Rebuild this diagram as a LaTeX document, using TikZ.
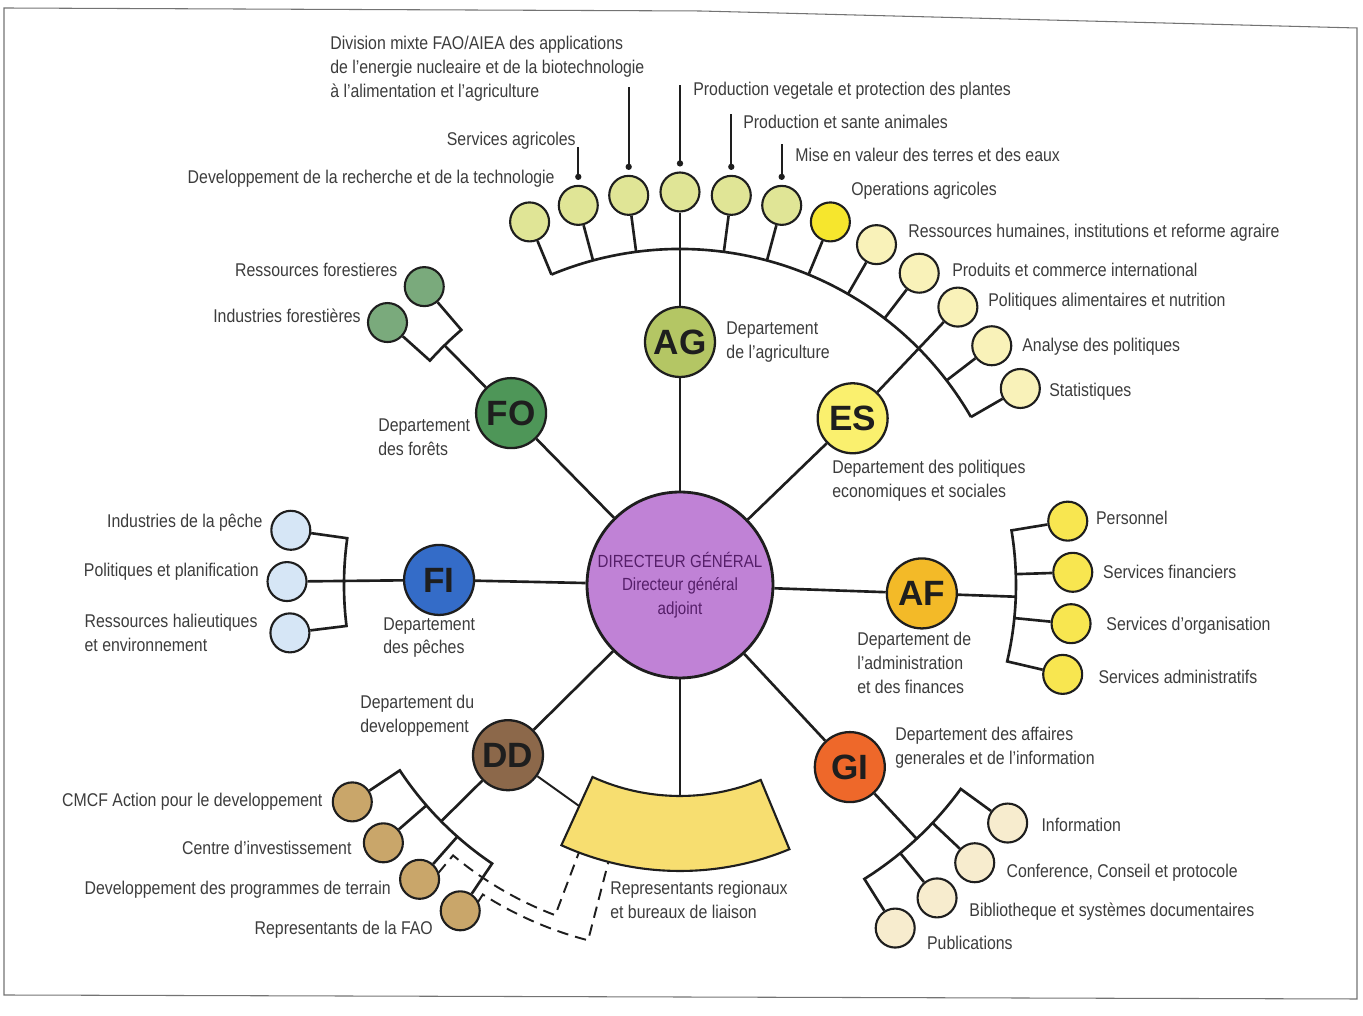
\documentclass[tikz,border=0pt]{standalone}
\usepackage{fontspec}
\setmainfont{Liberation Sans}[FakeStretch=0.86]
\newfontfamily\deptfont{Liberation Sans}
\usetikzlibrary{calc}
\usetikzlibrary{positioning}

\definecolor{ink}{RGB}{30,30,30}
\definecolor{txt}{RGB}{60,60,60}
\definecolor{dgfill}{RGB}{192,130,214}
\definecolor{dgtext}{RGB}{85,30,105}
\definecolor{agfill}{RGB}{180,198,100}
\definecolor{agunit}{RGB}{224,229,150}
\definecolor{opunit}{RGB}{246,230,45}
\definecolor{esfill}{RGB}{250,240,110}
\definecolor{esunit}{RGB}{249,242,185}
\definecolor{fofill}{RGB}{78,150,88}
\definecolor{founit}{RGB}{122,170,124}
\definecolor{fifill}{RGB}{52,108,200}
\definecolor{fiunit}{RGB}{214,230,246}
\definecolor{affill}{RGB}{243,186,40}
\definecolor{afunit}{RGB}{248,230,80}
\definecolor{ddfill}{RGB}{140,104,74}
\definecolor{ddunit}{RGB}{201,166,106}
\definecolor{gifill}{RGB}{238,104,42}
\definecolor{giunit}{RGB}{247,236,206}
\definecolor{repfill}{RGB}{247,222,112}

\tikzset{
  dept/.style={circle, draw=ink, line width=1.3pt, minimum size=1.4cm, inner sep=0pt,
    text=ink, font=\deptfont\bfseries\fontsize{20}{20}\selectfont},
  unit/.style={circle, draw=ink, line width=1.2pt, minimum size=0.78cm, inner sep=0pt},
  lbl/.style={inner sep=0pt, text=txt, align=left},
  link/.style={draw=ink, line width=1.5pt},
  pin/.style={draw=ink, line width=1.1pt},
  dashline/.style={draw=ink, line width=1.1pt, dash pattern=on 6.5pt off 4pt},
}

\begin{document}
\begin{tikzpicture}[x=0.02cm, y=0.02cm, font=\fontsize{10.5}{13.6}\selectfont]
  \useasboundingbox (-680,-431) rectangle (683,585);
  % page edge
  \draw[black!55, line width=0.6pt] (-676,577) -- (20,574) -- (677,557) -- (677,-414) -- (-676,-410) -- cycle;

  % director general in the middle
  \node[circle, draw=ink, line width=1.6pt, fill=dgfill, minimum size=3.72cm, inner sep=0pt,
    align=center, text=dgtext, font=\fontsize{10}{13.4}\selectfont] (dg) at (0,0)
    {DIRECTEUR GÉNÉRAL\\Directeur général\\adjoint};

  % departments
  \node[dept, fill=agfill] (ag) at (90:243) {AG};
  \node[dept, fill=fofill] (fo) at (134.5:241) {FO};
  \node[dept, fill=esfill] (es) at (44:240) {ES};
  \node[dept, fill=fifill] (fi) at (178.8:241) {FI};
  \node[dept, fill=affill] (af) at (-2:242) {AF};
  \node[dept, fill=ddfill] (dd) at (224.7:242) {DD};
  \node[dept, fill=gifill] (gi) at (-47:249) {GI};

  \foreach \d in {ag,fo,es,fi,af,dd,gi}
    \draw[link] (dg) -- (\d);

  \node[lbl, right=0.2cm of ag] (ag-l) {Departement\\de l'agriculture};
  \node[lbl, anchor=west] (fo-l) at (-302,148) {Departement\\des forêts};
  \node[lbl, anchor=north west] (es-l) at (152,125) {Departement des politiques\\economiques et sociales};
  \node[lbl, anchor=north west] (fi-l) at (-297,-32) {Departement\\des pêches};
  \node[lbl, anchor=north west] (af-l) at (177,-47) {Departement de\\l'administration\\et des finances};
  \node[lbl, anchor=north west] (dd-l) at (-320,-110) {Departement du\\developpement};
  \node[lbl, anchor=north west] (gi-l) at (215,-142) {Departement des affaires\\generales et de l'information};

  % units on the big arc (agriculture, then economic and social)
  \foreach \i/\c in {1/agunit,2/agunit,3/agunit,4/agunit,5/agunit,6/agunit,
                     7/opunit,8/esunit,9/esunit,10/esunit,11/esunit,12/esunit} {
    \node[unit, fill=\c] (u\i) at ({112.5-7.5*(\i-1)}:393) {};
    \coordinate (s\i) at ({112.5-7.5*(\i-1)}:336);
  }
  \draw[link] (s1) arc[start angle=112.5, end angle=30, radius=336];
  \foreach \i in {1,2,3,5,6,7,8,9,11,12}
    \draw[link] (u\i) -- (s\i);
  \draw[link] (ag) -- (u4);
  \draw[link] (es) -- (u10);

  % pins above the first units
  \foreach \i/\len in {2/30,3/80,4/78,5/53,6/33} {
    \coordinate (d\i) at ($(u\i.north)+(0,8)$);
    \fill[ink] (d\i) circle[radius=1.8pt];
    \draw[pin] (d\i) -- ++(0,\len) coordinate (t\i);
  }

  \node[lbl, anchor=east] (u1-l) at (-125,406) {Developpement de la recherche et de la technologie};
  \node[lbl, anchor=east] (u2-l) at (-104,444) {Services agricoles};
  \node[lbl, anchor=north west] (u3-l) at (-350,549) {Division mixte FAO/AIEA des applications\\de l'energie nucleaire et de la biotechnologie\\à l'alimentation et l'agriculture};
  \node[lbl, anchor=west] (u4-l) at (13,494) {Production vegetale et protection des plantes};
  \node[lbl, anchor=west] (u5-l) at (63,463) {Production et sante animales};
  \node[lbl, anchor=west] (u6-l) at (115,430) {Mise en valeur des terres et des eaux};
  \node[lbl, anchor=west] (u7-l) at (171,394) {Operations agricoles};
  \node[lbl, anchor=west] (u8-l) at (228,352) {Ressources humaines, institutions et reforme agraire};
  \node[lbl, anchor=west] (u9-l) at (272,315) {Produits et commerce international};
  \node[lbl, anchor=west] (u10-l) at (308,283) {Politiques alimentaires et nutrition};
  \node[lbl, anchor=west] (u11-l) at (342,238) {Analyse des politiques};
  \node[lbl, anchor=west] (u12-l) at (369,193) {Statistiques};

  % forests
  \node[unit, fill=founit] (fo1) at (130.6:393) {};
  \node[unit, fill=founit] (fo2) at (138.1:393) {};
  \coordinate (fo-a) at (130.6:336);
  \coordinate (fo-j) at (134.5:336);
  \draw[link] (fo) -- (fo-j);
  \draw[link] (fo1) -- (fo-a) arc[start angle=130.6, end angle=138.1, radius=336] -- (fo2);
  \node[lbl, left=0.12cm of fo1, yshift=0.33cm] (fo1-l) {Ressources forestieres};
  \node[lbl, left=0.12cm of fo2, yshift=0.13cm] (fo2-l) {Industries forestières};

  % fisheries
  \foreach \i/\a in {1/172,2/179.5,3/187}
    \node[unit, fill=fiunit] (fi\i) at (\a:393) {};
  \coordinate (fi-a) at (172:336);
  \draw[link] (fi1) -- (fi-a) arc[start angle=172, end angle=187, radius=336] -- (fi3);
  \draw[link] (fi) -- (fi2);
  \node[lbl, left=0.15cm of fi1, yshift=0.15cm] (fi1-l) {Industries de la pêche};
  \node[lbl, left=0.15cm of fi2, yshift=0.19cm] (fi2-l) {Politiques et planification};
  \node[lbl, left=0.23cm of fi3] (fi3-l) {Ressources halieutiques\\et environnement};

  % administration and finance
  \foreach \i/\a in {1/9.35,2/1.85,3/-5.65,4/-13.15} {
    \node[unit, fill=afunit] (af\i) at (\a:393) {};
    \coordinate (af-s\i) at (\a:336);
  }
  \coordinate (af-j) at (-2:336);
  \draw[link] (af1) -- (af-s1) arc[start angle=9.35, end angle=-13.15, radius=336] -- (af4);
  \draw[link] (af2) -- (af-s2);
  \draw[link] (af3) -- (af-s3);
  \draw[link] (af) -- (af-j);
  \node[lbl, right=0.15cm of af1, yshift=0.06cm] (af1-l) {Personnel};
  \node[lbl, right=0.19cm of af2] (af2-l) {Services financiers};
  \node[lbl, right=0.29cm of af3, yshift=-0.04cm] (af3-l) {Services d'organisation};
  \node[lbl, right=0.3cm of af4, yshift=-0.05cm] (af4-l) {Services administratifs};

  % general affairs and information
  \foreach \i/\a in {1/-36,2/-43.3,3/-50.6,4/-57.9} {
    \node[unit, fill=giunit] (gi\i) at (\a:405) {};
    \coordinate (gi-s\i) at (\a:347);
  }
  \coordinate (gi-j) at (-47:347);
  \draw[link] (gi1) -- (gi-s1) arc[start angle=-36, end angle=-57.9, radius=347] -- (gi4);
  \draw[link] (gi2) -- (gi-s2);
  \draw[link] (gi3) -- (gi-s3);
  \draw[link] (gi) -- (gi-j);
  \node[lbl, right=0.26cm of gi1, yshift=-0.04cm] (gi1-l) {Information};
  \node[lbl, right=0.22cm of gi2, yshift=-0.2cm] (gi2-l) {Conference, Conseil et protocole};
  \node[lbl, right=0.23cm of gi3, yshift=-0.28cm] (gi3-l) {Bibliotheque et systèmes documentaires};
  \node[lbl, right=0.22cm of gi4, yshift=-0.3cm] (gi4-l) {Publications};

  % development
  \foreach \i/\a in {1/213.5,2/221,3/228.5,4/236} {
    \node[unit, fill=ddunit] (dd\i) at (\a:393) {};
    \coordinate (dd-s\i) at (\a:336);
  }
  \coordinate (dd-j) at (224.7:336);
  \draw[link] (dd1) -- (dd-s1) arc[start angle=213.5, end angle=236, radius=336] -- (dd4);
  \draw[link] (dd2) -- (dd-s2);
  \draw[link] (dd3) -- (dd-s3);
  \draw[link] (dd) -- (dd-j);
  \node[lbl, left=0.18cm of dd1] (dd1-l) {CMCF Action pour le developpement};
  \node[lbl, left=0.22cm of dd2, yshift=-0.1cm] (dd2-l) {Centre d'investissement};
  \node[lbl, left=0.16cm of dd3, yshift=-0.2cm] (dd3-l) {Developpement des programmes de terrain};
  \node[lbl, left=0.13cm of dd4, yshift=-0.38cm] (dd4-l) {Representants de la FAO};

  % regional representatives
  \coordinate (rep-nw) at (245.5:211);
  \coordinate (rep-n) at (270:211);
  \coordinate (rep-w) at (245.5:243);
  \coordinate (rep-s1) at (249.3:286);
  \coordinate (rep-s2) at (255.5:286);
  \path[fill=repfill, draw=ink, line width=1.2pt] (rep-nw) arc[start angle=245.5, end angle=292.5, radius=211]
    -- (292.5:286) arc[start angle=292.5, end angle=245.5, radius=286] -- cycle;
  \draw[link] (dg) -- (rep-n);
  \draw[link, line width=1.1pt] (dd) -- (rep-w);
  \coordinate (dd3-d) at (230:376);
  \coordinate (dd4-d) at (237.5:376);
  \draw[dashline] (dd3-d) -- (230:353) arc[start angle=230, end angle=249.3, radius=353] -- (rep-s1);
  \draw[dashline] (dd4-d) -- (237.5:367) arc[start angle=237.5, end angle=255.5, radius=367] -- (rep-s2);
  \node[lbl, anchor=north west] (rep-l) at (-70,-296) {Representants regionaux\\et bureaux de liaison};
\end{tikzpicture}
\end{document}
